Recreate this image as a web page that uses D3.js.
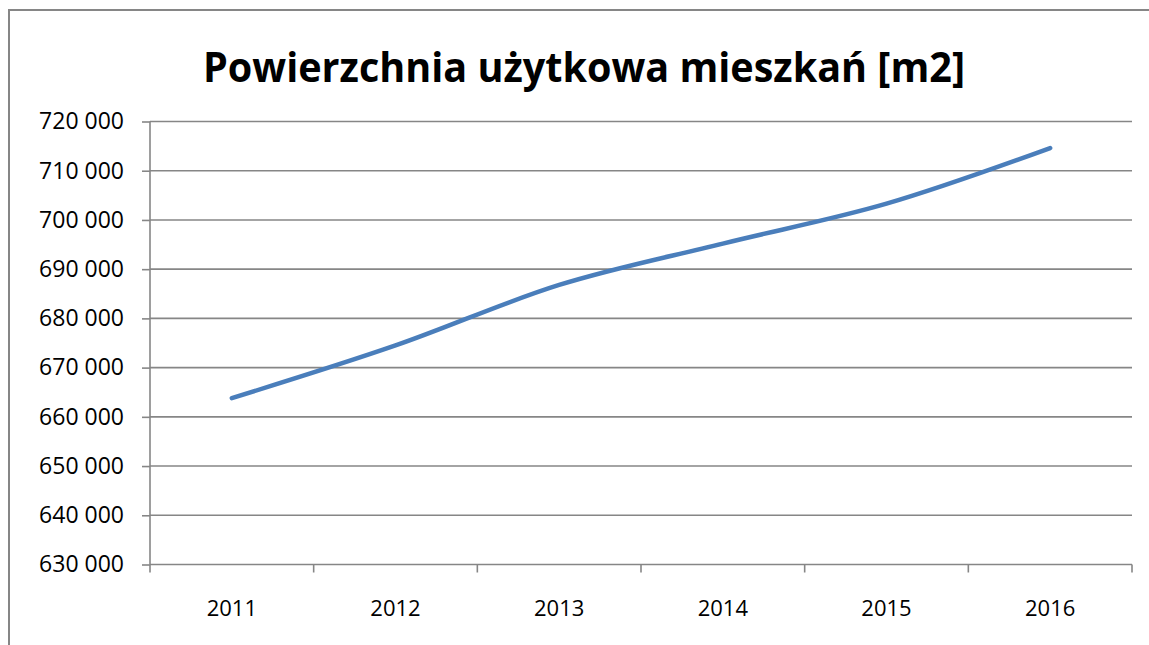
<!DOCTYPE html>
<html>
<head>
<meta charset="utf-8">
<script src="https://cdn.jsdelivr.net/npm/d3@7"></script>
<style>
  html, body { margin: 0; padding: 0; background: #fff; overflow: hidden; }
  svg { display: block; }
  text { font-family: "Open Sans", "Liberation Sans", sans-serif; fill: #000; }
</style>
</head>
<body>
<svg id="chart" width="1149" height="645"></svg>
<script>
const title = "Powierzchnia użytkowa mieszkań [m2]";
const years = ["2011", "2012", "2013", "2014", "2015", "2016"];
const values = [663800, 674500, 686800, 695200, 703300, 714600];
const yTicks = [630000, 640000, 650000, 660000, 670000, 680000, 690000, 700000, 710000, 720000];

(function () {
const svg = d3.select("#chart");
const gray = "#868686";

// outer chart frame: only its top and left edges are within view
svg.append("path")
  .attr("d", "M9,700V10H1160")
  .attr("fill", "none")
  .attr("stroke", gray).attr("stroke-width", 2);

const pLeft = 150, pRight = 1132, pTop = 121.5, pBottom = 564.5;

const x = d3.scaleBand().domain(years).range([pLeft, pRight]).padding(0);
const y = d3.scaleLinear().domain([630000, 720000]).range([pBottom, pTop]);

const fmt = v => d3.format(",")(v).replace(/,/g, " ");

// gridlines
svg.append("g")
  .selectAll("line")
  .data(yTicks.slice(1))
  .join("line")
  .attr("x1", pLeft).attr("x2", pRight)
  .attr("y1", d => y(d)).attr("y2", d => y(d))
  .attr("stroke", gray).attr("stroke-width", 1.6);

// y axis
const yAxis = svg.append("g")
  .attr("transform", `translate(${pLeft},0)`)
  .call(d3.axisLeft(y).tickValues(yTicks).tickFormat(fmt).tickSize(8).tickPadding(18));
yAxis.select(".domain").attr("stroke", gray).attr("stroke-width", 1.6).attr("d", `M0,${pTop}V${pBottom}`);
yAxis.selectAll(".tick line").attr("stroke", gray).attr("stroke-width", 1.6);
yAxis.selectAll(".tick text")
  .style("font-family", '"Open Sans", sans-serif')
  .style("font-size", "23px")
  .attr("fill", "#000");

// x axis
const xAxis = svg.append("g")
  .attr("transform", `translate(0,${pBottom})`)
  .call(d3.axisBottom(x).tickSize(0).tickPadding(0));
xAxis.select(".domain").attr("stroke", gray).attr("stroke-width", 1.6).attr("d", `M${pLeft},0H${pRight}`);
xAxis.selectAll(".tick line").remove();
xAxis.selectAll(".tick text")
  .attr("y", 51).attr("dy", 0)
  .style("font-family", '"Open Sans", sans-serif')
  .style("font-size", "22px")
  .attr("fill", "#000");

// category boundary ticks
const bounds = years.map(d => x(d)).concat([x(years[years.length - 1]) + x.bandwidth()]);
svg.append("g")
  .selectAll("line")
  .data(bounds)
  .join("line")
  .attr("x1", d => d).attr("x2", d => d)
  .attr("y1", pBottom).attr("y2", pBottom + 8)
  .attr("stroke", gray).attr("stroke-width", 1.6);

// line
const line = d3.line()
  .x((d, i) => x(years[i]) + x.bandwidth() / 2)
  .y(d => y(d))
  .curve(d3.curveCardinal.tension(0));
svg.append("path")
  .datum(values)
  .attr("d", line)
  .attr("fill", "none")
  .attr("stroke", "#4a7ebb")
  .attr("stroke-width", 4.5)
  .attr("stroke-linecap", "round")
  .attr("stroke-linejoin", "round");

// title
svg.append("text")
  .attr("x", 584).attr("y", 82)
  .attr("text-anchor", "middle")
  .style("font-family", '"Open Sans", sans-serif')
  .style("font-weight", "bold")
  .style("font-size", "41px")
  .attr("textLength", 762)
  .attr("lengthAdjust", "spacingAndGlyphs")
  .text(title);
})();
</script>
</body>
</html>
